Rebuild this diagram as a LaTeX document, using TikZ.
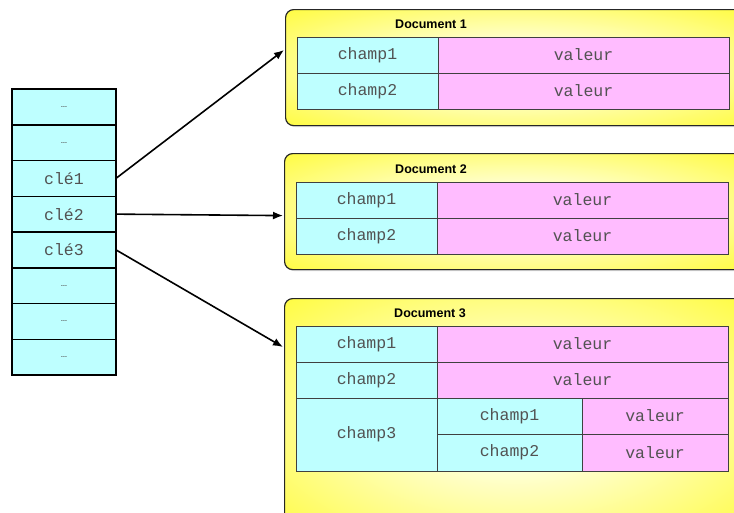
\documentclass[tikz,border=0pt]{standalone}
\usepackage{fontspec}
\setmainfont{Liberation Sans}
\setmonofont{Liberation Mono}
\usetikzlibrary{positioning, arrows.meta, shadows}

\definecolor{keycyan}{RGB}{190,255,255}
\definecolor{valpink}{RGB}{255,188,255}
\definecolor{docyellow}{RGB}{255,250,10}
\definecolor{docpale}{RGB}{255,255,218}
\pgfdeclareradialshading{docglow}{\pgfpoint{0bp}{0bp}}{color(0bp)=(docpale); color(10bp)=(docpale); color(45bp)=(docyellow); color(80bp)=(docyellow)}

\newcommand{\slotdots}{{\sffamily\fontsize{12}{12}\selectfont …}}

\tikzset{
	cell/.style={draw=black!75, line width=.8pt, anchor=north west, outer sep=0pt, inner sep=0pt,
		minimum height=36pt, font=\fontsize{16.5}{16.5}\selectfont\ttfamily, text=black!68,
		drop shadow={shadow xshift=1.2pt, shadow yshift=-1.2pt, opacity=.35}},
	fieldcell/.style={cell, fill=keycyan, minimum width=141pt},
	valuecell/.style={cell, fill=valpink, minimum width=291pt},
	slot/.style={cell, draw=black, line width=1.5pt, fill=keycyan, minimum width=104pt, minimum height=35.75pt},
	docbox/.style={draw=black!85, line width=1.2pt, rounded corners=8pt, shading=docglow, anchor=north west,
		minimum width=461pt, drop shadow={shadow xshift=1.5pt, shadow yshift=-1.5pt, opacity=.3}},
	doctitle/.style={font=\fontsize{12.5}{12.5}\selectfont\bfseries},
	link/.style={line width=1.6pt, -{Latex[length=10pt, width=8pt]}}
}

\begin{document}
\begin{tikzpicture}[x=1pt, y=-1pt]
	\useasboundingbox (0,0) rectangle (734,512);
	\clip (0,0) rectangle (734,512);

	% index column
	\foreach \lbl [count=\i] in {\slotdots, \slotdots, clé1, clé2, clé3, \slotdots, \slotdots, \slotdots}
		\node[slot] (slot\i) at (12,{89+35.75*(\i-1)}) {\lbl};

	% document 1
	\node[docbox, minimum height=116pt] (doc1) at (285,9) {};
	\node[doctitle] (title1) at (431,24) {Document 1};
	\node[fieldcell] (d1k1) at ([xshift=12pt, yshift=-28pt]doc1.north west) {champ1};
	\node[valuecell, right=0pt of d1k1] (d1v1) {valeur};
	\node[fieldcell, below=0pt of d1k1] (d1k2) {champ2};
	\node[valuecell, right=0pt of d1k2] (d1v2) {valeur};

	% document 2
	\node[docbox, minimum height=116pt] (doc2) at (284,153) {};
	\node[doctitle] (title2) at (431,169) {Document 2};
	\node[fieldcell] (d2k1) at ([xshift=12pt, yshift=-29pt]doc2.north west) {champ1};
	\node[valuecell, right=0pt of d2k1] (d2v1) {valeur};
	\node[fieldcell, below=0pt of d2k1] (d2k2) {champ2};
	\node[valuecell, right=0pt of d2k2] (d2v2) {valeur};

	% document 3, champ3 holds a sub-document
	\node[docbox, minimum height=240pt] (doc3) at (284,298) {};
	\node[doctitle] (title3) at (430,313) {Document 3};
	\node[fieldcell] (d3k1) at ([xshift=12pt, yshift=-28pt]doc3.north west) {champ1};
	\node[valuecell, right=0pt of d3k1] (d3v1) {valeur};
	\node[fieldcell, below=0pt of d3k1] (d3k2) {champ2};
	\node[valuecell, right=0pt of d3k2] (d3v2) {valeur};
	\node[fieldcell, below=0pt of d3k2, minimum height=73pt] (d3k3) {champ3};
	\node[fieldcell, minimum width=145pt] (d3s1) at (d3k3.north east) {champ1};
	\node[valuecell, minimum width=146pt, right=0pt of d3s1] (d3w1) {valeur};
	\node[fieldcell, minimum width=145pt, minimum height=37pt, below=0pt of d3s1] (d3s2) {champ2};
	\node[valuecell, minimum width=146pt, minimum height=37pt, right=0pt of d3s2] (d3w2) {valeur};

	% keys point to their documents
	\coordinate (in1) at (d1k1.center -| doc1.west);
	\coordinate (in3) at (d3k1.center -| doc3.west);
	\draw[link] (slot3.east) -- ([xshift=-1pt, yshift=5pt]in1);
	\draw[link] (slot4.east) -- ([xshift=-1pt, yshift=-4pt]doc2.west);
	\draw[link] (slot5.east) -- ([xshift=-1pt, yshift=-3pt]in3);
\end{tikzpicture}
\end{document}
